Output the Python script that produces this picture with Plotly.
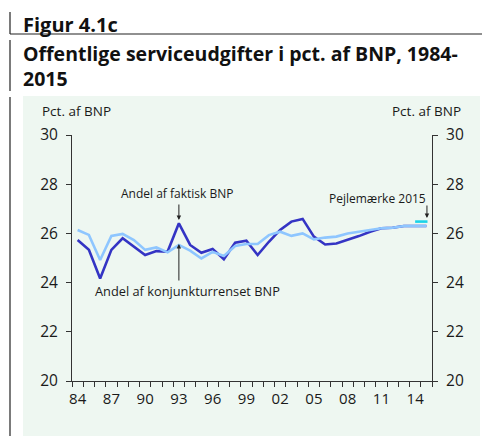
import plotly.graph_objects as go

years = list(range(1984, 2016))
faktisk = [25.73, 25.33, 24.17, 25.33, 25.80, 25.46, 25.12, 25.28, 25.26, 26.41,
           25.53, 25.21, 25.37, 24.95, 25.62, 25.70, 25.12, 25.66, 26.14, 26.48,
           26.59, 25.87, 25.55, 25.59, 25.73, 25.89, 26.07, 26.21, 26.23, 26.30,
           26.30, 26.30]
konjunktur = [26.14, 25.94, 24.92, 25.90, 25.98, 25.73, 25.33, 25.43, 25.23, 25.53,
              25.30, 24.98, 25.25, 25.08, 25.49, 25.57, 25.57, 25.93, 26.07, 25.90,
              26.00, 25.76, 25.83, 25.87, 26.00, 26.07, 26.17, 26.21, 26.23, 26.30,
              26.30, 26.30]
pejl_years = [2014, 2015.1]
pejl_values = [26.48, 26.48]
label_years = list(range(1984, 2015, 3))
label_text = [str(y)[2:] for y in label_years]
y_ticks = [20, 22, 24, 26, 28, 30]

DARK = "#3434c4"
LIGHT = "#8ec6ff"
CYAN = "#1ad3e8"
MINT = "#eef7f1"
FONT = "Open Sans"

# page body has an 8px margin; work in reference pixel coords and shift
OFF = 8
FW, FH = 490 - OFF, 436 - OFF
L, R, T, B = 72, 432, 135, 381   # plot area in reference pixels
W, H = R - L, B - T
def px(x):
    return (x - L) / W
def py(y):
    return (B - y) / H
def yval(p):
    return 30 - (p - T) / H * 10

fig = go.Figure()
fig.add_trace(go.Scatter(x=years, y=faktisk, mode="lines",
                         line=dict(color=DARK, width=2.6), hoverinfo="skip"))
fig.add_trace(go.Scatter(x=years, y=konjunktur, mode="lines",
                         line=dict(color=LIGHT, width=2.6), hoverinfo="skip"))
fig.add_trace(go.Scatter(x=pejl_years, y=pejl_values, mode="lines",
                         line=dict(color=CYAN, width=2.6), hoverinfo="skip"))
# invisible trace to anchor secondary axes
fig.add_trace(go.Scatter(x=years, y=faktisk, xaxis="x2", yaxis="y2", mode="lines",
                         line=dict(width=0), opacity=0, hoverinfo="skip"))

xr = [1983.5, 2015.5]
fig.update_layout(
    width=FW, height=FH,
    margin=dict(l=L - OFF, r=490 - R, t=T - OFF, b=436 - B, pad=0),
    paper_bgcolor="white", plot_bgcolor=MINT,
    showlegend=False,
    font=dict(family=FONT, size=15, color="#1a1a1a"),
    xaxis=dict(range=xr, tickvals=[1983.5 + i for i in range(33)],
               ticktext=[""] * 33, ticks="outside", ticklen=5, tickwidth=1,
               tickcolor="#333", showline=True, linecolor="#333", linewidth=1,
               showgrid=False, zeroline=False, fixedrange=True),
    xaxis2=dict(range=xr, overlaying="x", side="bottom", tickvals=label_years,
                ticktext=label_text, ticks="", showline=False, showgrid=False,
                zeroline=False, ticklabelstandoff=7, tickfont=dict(size=15)),
    yaxis=dict(range=[20, 30], tickvals=y_ticks, ticks="outside", ticklen=5,
               tickcolor="#333", showline=True, linecolor="#333", linewidth=1,
               showgrid=False, zeroline=False, ticklabelstandoff=5,
               tickfont=dict(size=15.5)),
    yaxis2=dict(range=[20, 30], tickvals=y_ticks, overlaying="y", side="right",
                ticks="outside", ticklen=5, tickcolor="#333", showline=True,
                linecolor="#333", linewidth=1, showgrid=False, zeroline=False,
                ticklabelstandoff=5, tickfont=dict(size=15.5)),
)

shapes = [
    dict(type="rect", xref="paper", yref="paper", x0=px(23), x1=px(480),
         y0=py(440), y1=py(96), fillcolor=MINT, line=dict(width=0), layer="below"),
    dict(type="line", xref="paper", yref="paper", x0=px(10), x1=px(10),
         y0=py(12), y1=py(34), line=dict(color="#222", width=1.2)),
    dict(type="line", xref="paper", yref="paper", x0=px(10), x1=px(10),
         y0=py(40), y1=py(91), line=dict(color="#222", width=1.2)),
    dict(type="line", xref="paper", yref="paper", x0=px(10), x1=px(10),
         y0=py(97), y1=py(440), line=dict(color="#222", width=1.2)),
    dict(type="line", xref="paper", yref="paper", x0=px(10), x1=px(495),
         y0=py(34), y1=py(34), line=dict(color="#222", width=1.2)),
]
fig.update_layout(shapes=shapes)

ann = [
    dict(text="<b>Figur 4.1c</b>", x=px(21), y=py(25), xanchor="left", yanchor="middle",
         font=dict(size=20, color="#111")),
    dict(text="<b>Offentlige serviceudgifter i pct. af BNP, 1984-<br>2015</b>",
         x=px(21), y=py(66), xanchor="left", yanchor="middle", align="left",
         font=dict(size=19.5, color="#111")),
    dict(text="Pct. af BNP", x=px(40), y=py(111), xanchor="left", yanchor="middle",
         font=dict(size=13.5)),
    dict(text="Pct. af BNP", x=px(463), y=py(111), xanchor="right", yanchor="middle",
         font=dict(size=13.5)),
    dict(text="Andel af faktisk BNP", x=px(177), y=py(193), xanchor="center",
         yanchor="middle", font=dict(size=12)),
    dict(text="Andel af konjunkturrenset BNP", x=px(93), y=py(291), xanchor="left",
         yanchor="middle", font=dict(size=12.8)),
    dict(text="Pejlemærke 2015", x=px(428), y=py(198), xanchor="right",
         yanchor="middle", font=dict(size=12)),
]
for a in ann:
    a.setdefault("xref", "paper")
    a.setdefault("yref", "paper")
    a.setdefault("showarrow", False)
fig.update_layout(annotations=ann)

# arrows
arrows = [
    dict(x=1993, y=yval(220), ax=1993, ay=yval(203)),
    dict(x=1993, y=yval(244), ax=1993, ay=yval(282)),
    dict(x=2015.05, y=yval(218), ax=2015.05, ay=yval(204)),
]
for a in arrows:
    fig.add_annotation(x=a["x"], y=a["y"], xref="x", yref="y", ax=a["ax"], ay=a["ay"],
                       axref="x", ayref="y", showarrow=True, arrowhead=2,
                       arrowsize=0.9, arrowwidth=1, arrowcolor="#222", text="")

fig.write_html("out.html")
